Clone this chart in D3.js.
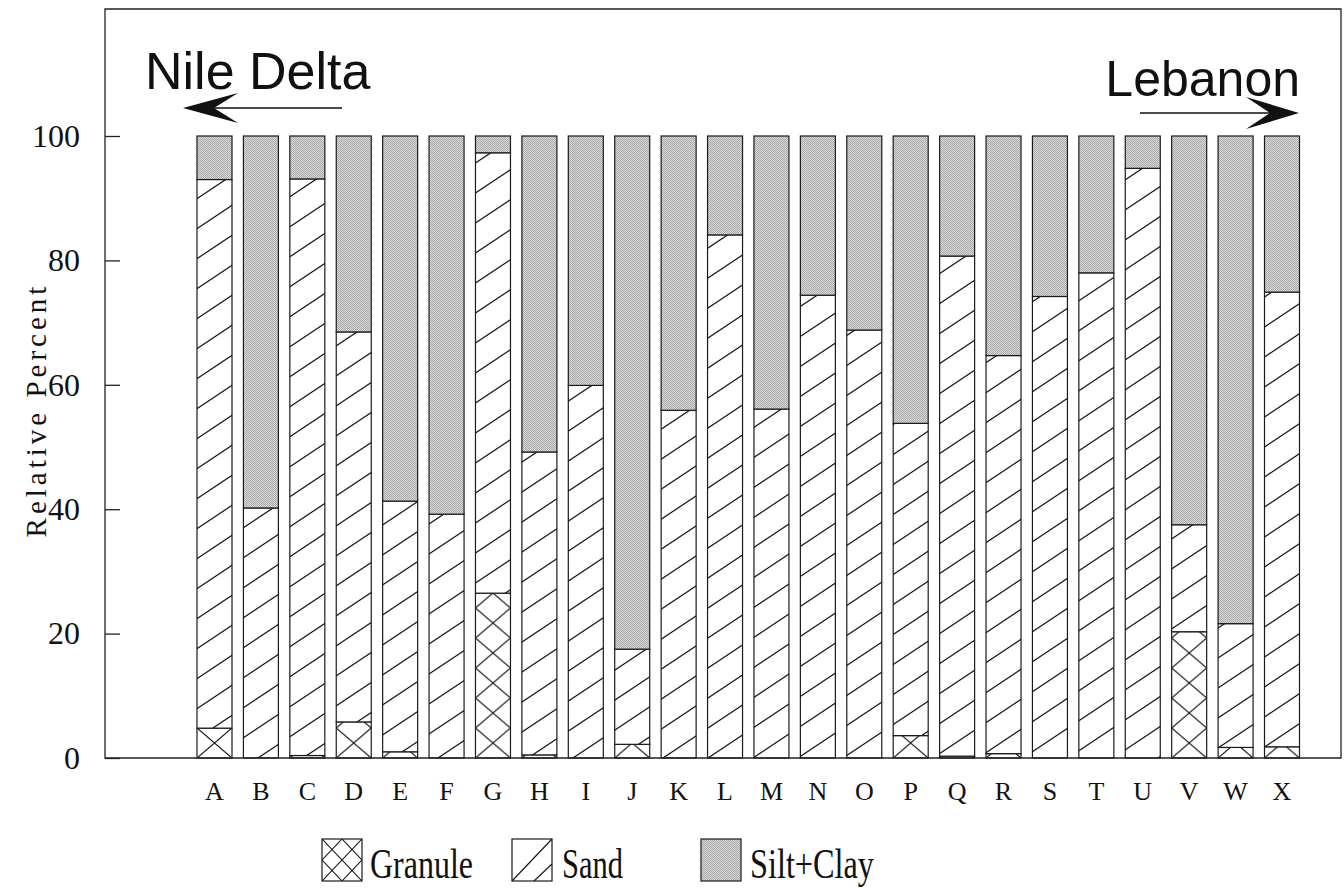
<!DOCTYPE html>
<html>
<head>
<meta charset="utf-8">
<script src="https://cdn.jsdelivr.net/npm/d3@7"></script>
<style>
  body { margin: 0; background: #fff; }
  svg { display: block; }
  .tick text { fill: #111; }
</style>
</head>
<body>
<script>
// sample stations, Nile Delta (left) to Lebanon (right)
const categories = ["A","B","C","D","E","F","G","H","I","J","K","L","M","N","O","P","Q","R","S","T","U","V","W","X"];
const granule   = [4.8, 0, 0.4, 5.8, 1.0, 0, 26.5, 0.5, 0, 2.2, 0, 0, 0, 0, 0, 3.6, 0.3, 0.7, 0, 0, 0, 20.3, 1.7, 1.8];
const sand      = [88.2, 40.2, 92.7, 62.7, 40.3, 39.2, 70.8, 48.7, 59.9, 15.3, 55.9, 84.1, 56.1, 74.4, 68.8, 50.2, 80.4, 64.0, 74.2, 78.0, 94.8, 17.2, 19.9, 73.1];
const siltClay  = [7.0, 59.8, 6.9, 31.5, 58.7, 60.8, 2.7, 50.8, 40.1, 82.5, 44.1, 15.9, 43.9, 25.6, 31.2, 46.2, 19.3, 35.3, 25.8, 22.0, 5.2, 62.5, 78.4, 25.1];
const keys = ["granule", "sand", "siltClay"];
const legendLabels = ["Granule", "Sand", "Silt+Clay"];
const yTicks = [0, 20, 40, 60, 80, 100];

const W = 1344, H = 888;
const frame = {left: 105, top: 9, right: 1341, bottom: 758};

const rows = categories.map((c, i) => ({cat: c, granule: granule[i], sand: sand[i], siltClay: siltClay[i]}));
const series = d3.stack().keys(keys)(rows);

const x = d3.scaleBand()
    .domain(categories)
    .range([197, 1299.5])
    .paddingInner(0.246)
    .paddingOuter(0);

const y = d3.scaleLinear()
    .domain([0, 100])
    .range([758, 136]);

const svg = d3.select("body").append("svg")
    .attr("width", W)
    .attr("height", H);

const defs = svg.append("defs");

// sand: single "/" hatch, rises ~30px per 45px
const hw = 45, hh = 30;
const sandPat = defs.append("pattern")
    .attr("id", "sand")
    .attr("patternUnits", "userSpaceOnUse")
    .attr("width", hw)
    .attr("height", hh);
sandPat.append("rect").attr("width", hw).attr("height", hh).attr("fill", "#fff");
sandPat.append("path")
    .attr("d", `M0,${hh}L${hw},0M${-hw / 2},${hh / 2}L${hw / 2},${-hh / 2}M${hw / 2},${hh * 1.5}L${hw * 1.5},${hh / 2}`)
    .attr("stroke", "#1a1a1a").attr("stroke-width", 1.3);

// silt + clay: fine grey stipple
const siltPat = defs.append("pattern")
    .attr("id", "silt")
    .attr("patternUnits", "userSpaceOnUse")
    .attr("width", 2)
    .attr("height", 2);
siltPat.append("rect").attr("width", 2).attr("height", 2).attr("fill", "#dadada");
siltPat.append("rect").attr("width", 1).attr("height", 1).attr("fill", "#a8a8a8");
siltPat.append("rect").attr("x", 1).attr("y", 1).attr("width", 1).attr("height", 1).attr("fill", "#a8a8a8");

// granule: cross hatch, one pattern per bar so the diamonds line up with the bar edges
const bw = x.bandwidth();
const granPats = defs.selectAll("pattern.gran")
    .data(categories)
    .enter().append("pattern")
    .attr("class", "gran")
    .attr("id", d => "gran-" + d)
    .attr("patternUnits", "userSpaceOnUse")
    .attr("x", d => x(d))
    .attr("y", y(0))
    .attr("width", bw)
    .attr("height", 30);
granPats.append("rect").attr("width", bw).attr("height", 30).attr("fill", "#fff");
granPats.append("path")
    .attr("d", "M0,0L" + bw + ",30M0,30L" + bw + ",0")
    .attr("stroke", "#1a1a1a")
    .attr("stroke-width", 1.2);

function fillFor(key, cat) {
    if (key === "granule") return "url(#gran-" + cat + ")";
    if (key === "sand") return "url(#sand)";
    return "url(#silt)";
}

// bars
const layers = svg.append("g").selectAll("g")
    .data(series)
    .enter().append("g");

layers.selectAll("rect")
    .data(s => s.filter(d => d[1] - d[0] > 0).map(d => ({key: s.key, d: d})))
    .enter().append("rect")
    .attr("x", o => x(o.d.data.cat))
    .attr("y", o => y(o.d[1]))
    .attr("width", bw)
    .attr("height", o => y(o.d[0]) - y(o.d[1]))
    .attr("fill", o => fillFor(o.key, o.d.data.cat))
    .attr("stroke", "#1a1a1a")
    .attr("stroke-width", 1.2);

// frame
svg.append("path")
    .attr("d", `M${frame.left},${frame.bottom}V${frame.top}H${frame.right}V${frame.bottom}Z`)
    .attr("fill", "none")
    .attr("stroke", "#222")
    .attr("stroke-width", 1.3);

// y axis, ticks pointing inward
const yAxis = svg.append("g")
    .attr("transform", `translate(${frame.left},0)`)
    .call(d3.axisLeft(y).tickValues(yTicks).tickSize(-15).tickPadding(25).tickFormat(d3.format("d")));
yAxis.select(".domain").remove();
yAxis.selectAll(".tick line").attr("stroke", "#222").attr("stroke-width", 1.3);
yAxis.selectAll(".tick text")
    .attr("font-family", "Liberation Serif, Times New Roman, serif")
    .attr("font-size", 32);

svg.append("text")
    .attr("transform", "translate(46,410) rotate(-90)")
    .attr("text-anchor", "middle")
    .attr("font-family", "Liberation Serif, Times New Roman, serif")
    .attr("font-size", 29)
    .attr("letter-spacing", 4)
    .attr("fill", "#111")
    .text("Relative Percent");

// x axis
const xAxis = svg.append("g")
    .attr("transform", `translate(0,${frame.bottom})`)
    .call(d3.axisBottom(x).tickSize(0).tickPadding(24));
xAxis.select(".domain").remove();
xAxis.selectAll(".tick text")
    .attr("font-family", "Liberation Serif, Times New Roman, serif")
    .attr("font-size", 26);

// direction annotations
const sans = "Liberation Sans, Arial, Helvetica, sans-serif";
svg.append("text")
    .attr("x", 145).attr("y", 89)
    .attr("font-family", sans).attr("font-size", 52).attr("fill", "#111")
    .text("Nile Delta");
svg.append("path")
    .attr("d", "M214,108H342").attr("stroke", "#111").attr("stroke-width", 1.5);
svg.append("path")
    .attr("d", "M183,108L238,93L214,108L238,123Z").attr("fill", "#111");

svg.append("text")
    .attr("x", 1300).attr("y", 96)
    .attr("text-anchor", "end")
    .attr("font-family", sans).attr("font-size", 50).attr("fill", "#111")
    .text("Lebanon");
svg.append("path")
    .attr("d", "M1140,113H1272").attr("stroke", "#111").attr("stroke-width", 1.5);
svg.append("path")
    .attr("d", "M1299,113L1246,97L1270,113L1246,129Z").attr("fill", "#111");

// legend
const legendX = [322, 512, 701];
const legendTextX = [370, 562, 750];
const legendTextW = [103, 61, 124];
const legend = svg.append("g");

// legend swatch patterns
const lgGran = defs.append("pattern")
    .attr("id", "lg-gran")
    .attr("patternUnits", "userSpaceOnUse")
    .attr("x", legendX[0]).attr("y", 839)
    .attr("width", 20).attr("height", 21);
lgGran.append("rect").attr("width", 20).attr("height", 21).attr("fill", "#fff");
lgGran.append("path").attr("d", "M0,0L20,21M0,21L20,0").attr("stroke", "#1a1a1a").attr("stroke-width", 1.1);

const swFill = ["url(#lg-gran)", "#fff", "url(#silt)"];
legend.selectAll("rect")
    .data(keys)
    .enter().append("rect")
    .attr("x", (d, i) => legendX[i])
    .attr("y", 839)
    .attr("width", 40)
    .attr("height", 42)
    .attr("fill", (d, i) => swFill[i])
    .attr("stroke", "#1a1a1a")
    .attr("stroke-width", 1.2);

// sand swatch hatch
legend.append("path")
    .attr("d", `M${legendX[1]},881L${legendX[1] + 40},839M${legendX[1] + 22},881L${legendX[1] + 40},864`)
    .attr("stroke", "#1a1a1a").attr("stroke-width", 1.2);

legend.selectAll("text")
    .data(legendLabels)
    .enter().append("text")
    .attr("x", (d, i) => legendTextX[i])
    .attr("y", 878)
    .attr("font-family", "Liberation Serif, Times New Roman, serif")
    .attr("font-size", 43)
    .attr("textLength", (d, i) => legendTextW[i])
    .attr("lengthAdjust", "spacingAndGlyphs")
    .attr("fill", "#111")
    .text(d => d);
</script>
</body>
</html>
